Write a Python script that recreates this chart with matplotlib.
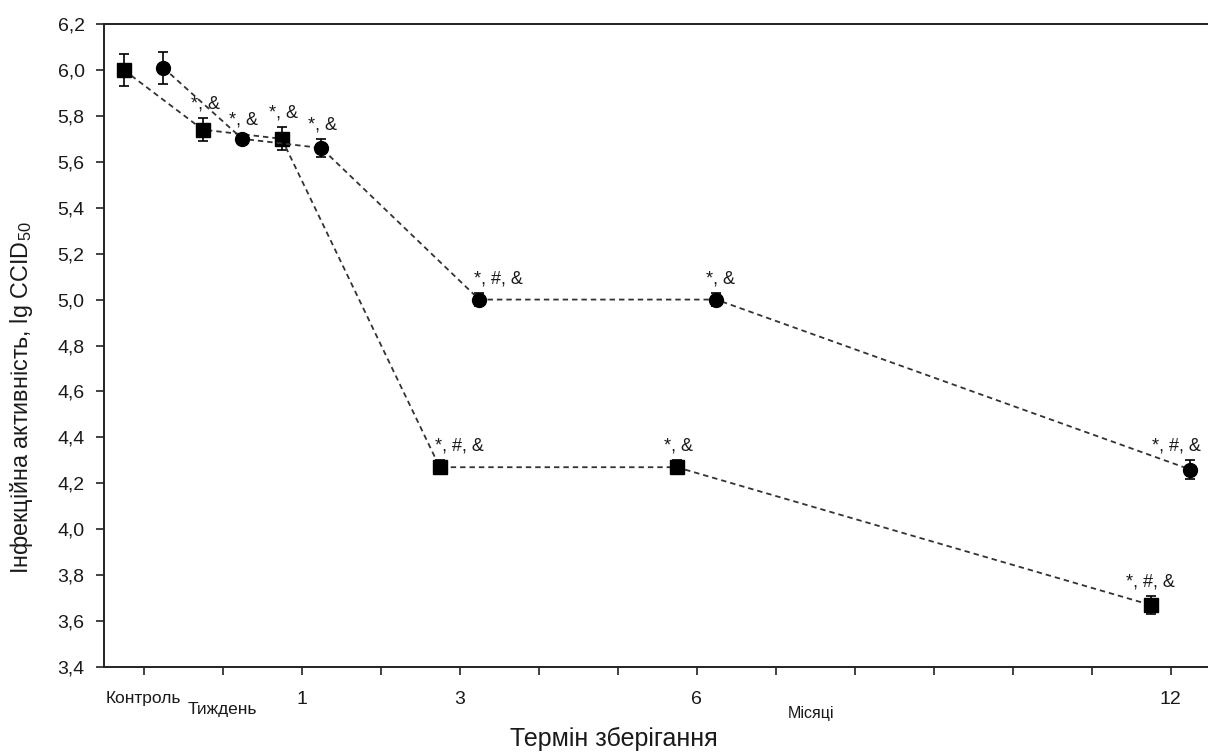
import matplotlib
matplotlib.use("Agg")
import matplotlib.pyplot as plt
from matplotlib.ticker import FuncFormatter

plt.rcParams['font.family'] = ['Liberation Sans', 'DejaVu Sans']
plt.rcParams['mathtext.fontset'] = 'custom'
plt.rcParams['mathtext.rm'] = 'Liberation Sans'
plt.rcParams['mathtext.default'] = 'regular'

# group positions on the x axis: control, week, 1, 3, 6, 12 months
group_pos = [0, 1, 2, 4, 7, 13]

# series with square markers
sq_vals = [6.00, 5.74, 5.70, 4.27, 4.27, 3.67]
sq_err = [0.07, 0.05, 0.05, 0.03, 0.03, 0.04]
sq_notes = ['', '*, &', '*, &', '*, #, &', '*, &', '*, #, &']

# series with round markers
ci_vals = [6.01, 5.70, 5.66, 5.00, 5.00, 4.26]
ci_err = [0.07, 0.02, 0.04, 0.03, 0.03, 0.04]
ci_notes = ['', '*, &', '*, &', '*, #, &', '*, &', '*, #, &']

tick_pos = list(range(14))
tick_labels = ['Контроль', '', '1', '', '3', '', '', '6', '', '', '', '', '', '12']

# horizontal nudges of the note texts (points)
sq_dx = [0, 2, 1, 14, 1, 0]
ci_dx = [0, 1, 1, 14, 3, -10]

fig = plt.figure(figsize=(12.08, 7.53), dpi=100)
ax = fig.add_axes([104 / 1208, 86 / 753, 1106 / 1208, 643 / 753])

txt = '#1a1a1a'
line_kw = dict(color='#333333', linestyle=(0, (3, 2.2)), linewidth=1.3,
               ecolor='black', elinewidth=1.2, capsize=3.5, capthick=1.2,
               markerfacecolor='black', markeredgecolor='black')

sq_x = [p - 0.25 for p in group_pos]
ci_x = [p + 0.25 for p in group_pos]

ax.errorbar(sq_x, sq_vals, yerr=sq_err, marker='s', markersize=10.5, **line_kw)
ax.errorbar(ci_x, ci_vals, yerr=ci_err, marker='o', markersize=10, **line_kw)

for x, v, e, s, dx in zip(sq_x, sq_vals, sq_err, sq_notes, sq_dx):
    if s:
        ax.annotate(s, (x, v + e), xytext=(dx, 4), textcoords='offset points',
                    ha='center', va='bottom', fontsize=13, color=txt,
                    annotation_clip=False)
for x, v, e, s, dx in zip(ci_x, ci_vals, ci_err, ci_notes, ci_dx):
    if s:
        ax.annotate(s, (x, v + e), xytext=(dx, 4), textcoords='offset points',
                    ha='center', va='bottom', fontsize=13, color=txt,
                    annotation_clip=False)

ax.set_xlim(-0.5, 13.5)
ax.set_ylim(3.4, 6.2)
ax.set_yticks([3.4 + 0.2 * i for i in range(15)])
ax.yaxis.set_major_formatter(FuncFormatter(lambda v, p: f'{v:.1f}'.replace('.', ',')))
ax.set_xticks(tick_pos)
ax.set_xticklabels(tick_labels)

ax.tick_params(direction='out', length=6, width=1.2, color='#222222',
               labelsize=14, labelcolor=txt, pad=8)
ax.tick_params(axis='x', pad=11)
ax.get_xticklabels()[0].set_fontsize(12.5)

for side in ['left', 'bottom', 'top']:
    ax.spines[side].set_linewidth(1.4)
    ax.spines[side].set_color('#222222')
ax.spines['right'].set_visible(False)

ax.text(1, -0.055, 'Тиждень', transform=ax.get_xaxis_transform(),
        ha='center', va='top', fontsize=12.5, color=txt)
ax.text(8.45, -0.06, 'Місяці', transform=ax.get_xaxis_transform(),
        ha='center', va='top', fontsize=11.5, color=txt)

fig.text(614 / 1208, 1 - 739 / 753, 'Термін зберігання', ha='center', va='center',
         fontsize=18, color=txt)
fig.text(22 / 1208, 1 - 398 / 753, r'Інфекційна активність, lg CCID$_{50}$',
         rotation=90, ha='center', va='center', fontsize=16.8, color=txt)

fig.savefig('out.png', dpi=100)
